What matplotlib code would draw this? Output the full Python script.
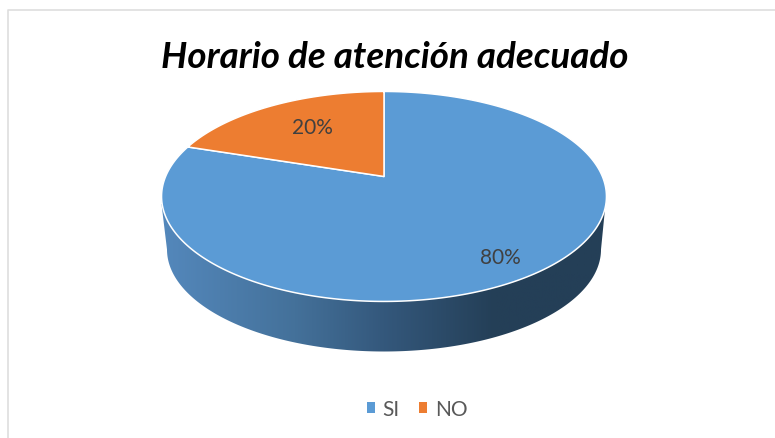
#!/usr/bin/env python3

import numpy as np
import matplotlib
matplotlib.use('Agg')
import matplotlib.pyplot as plt
from matplotlib.colors import LinearSegmentedColormap
from matplotlib.patches import Patch

categories = ['SI', 'NO']
values = [80, 20]
percent_labels = ['80%', '20%']
colors = ['#5B9BD5', '#ED7D31']
title = 'Horario de atención adecuado'

# Geometria en pixeles de la imagen
CX, TIP_Y = 384, 177.5
SCALE_X, SCALE_Y, PERSP = 218.4, 101.2, 0.19
BOTTOM_CY, BOTTOM_A, BOTTOM_B = 250.5, 217, 102


def project(theta):
    """Disco unidad a la tapa del pie; theta en radianes desde arriba, antihorario"""
    x = -np.sin(theta)
    y = np.cos(theta)
    d = 1 + PERSP * y
    return CX + SCALE_X * x / d, TIP_Y - SCALE_Y * y / d


fig = plt.figure(figsize=(7.75, 4.39), dpi=100)
ax = fig.add_axes([0, 0, 1, 1])
ax.set_xlim(0, 775)
ax.set_ylim(439, 0)
ax.axis('off')

# Marco del grafico
ax.plot([8, 8, 775], [439, 10.5, 10.5], color='#DEDEDE', linewidth=1.2, zorder=1)

# Lateral con degradado
low = np.linspace(np.pi, 2 * np.pi, 181)
side_x = np.concatenate([[161.5], CX - BOTTOM_A * np.cos(low - np.pi), [605.5]])
side_y = np.concatenate([[205], BOTTOM_CY + BOTTOM_B * np.sin(low - np.pi), [205]])
side_cmap = LinearSegmentedColormap.from_list(
    'side', [(0, '#5488BC'), (0.3, '#44719A'), (0.5, '#34587C'),
             (0.75, '#243F57'), (1, '#243F57')])
side_poly = ax.fill(side_x, side_y, color='none', zorder=2)[0]
grad = ax.imshow(np.linspace(0, 1, 256)[None, :], cmap=side_cmap,
                 extent=[161, 606, 360, 190], aspect='auto', zorder=2)
grad.set_clip_path(side_poly)
ax.set_xlim(0, 775)
ax.set_ylim(439, 0)

# Tapa: sectores a partir de los valores
fractions = np.array(values) / sum(values)
start = 2 * np.pi * fractions[1]
spans = [(start, 2 * np.pi), (0, start)]
for (a0, a1), color in zip(spans, colors):
    theta = np.linspace(a0, a1, 300)
    x, y = project(theta)
    ax.fill(np.r_[CX, x], np.r_[TIP_Y, y], facecolor=color, edgecolor='white',
            linewidth=1.1, joinstyle='round', zorder=3)

font = ['Lato', 'DejaVu Sans']
ax.text(500.5, 258, percent_labels[0], fontsize=15, color='#404040', family=font,
        ha='center', va='center', zorder=4)
ax.text(312.5, 128, percent_labels[1], fontsize=15, color='#404040', family=font,
        ha='center', va='center', zorder=4)

ax.text(395, 57, title, fontsize=26.5, fontweight='bold', fontstyle='italic',
        family=font, color='black', ha='center', va='center', zorder=4)

handles = [Patch(facecolor=c, edgecolor='none') for c in colors]
fig.legend(handles, categories, ncol=2, loc='center', bbox_to_anchor=(417 / 775, 1 - 410 / 439),
           frameon=False, prop={'family': font, 'size': 15}, labelcolor='#595959',
           handlelength=0.4, handleheight=0.4, handletextpad=0.38, columnspacing=0.9)

fig.savefig('out.png', dpi=100)
